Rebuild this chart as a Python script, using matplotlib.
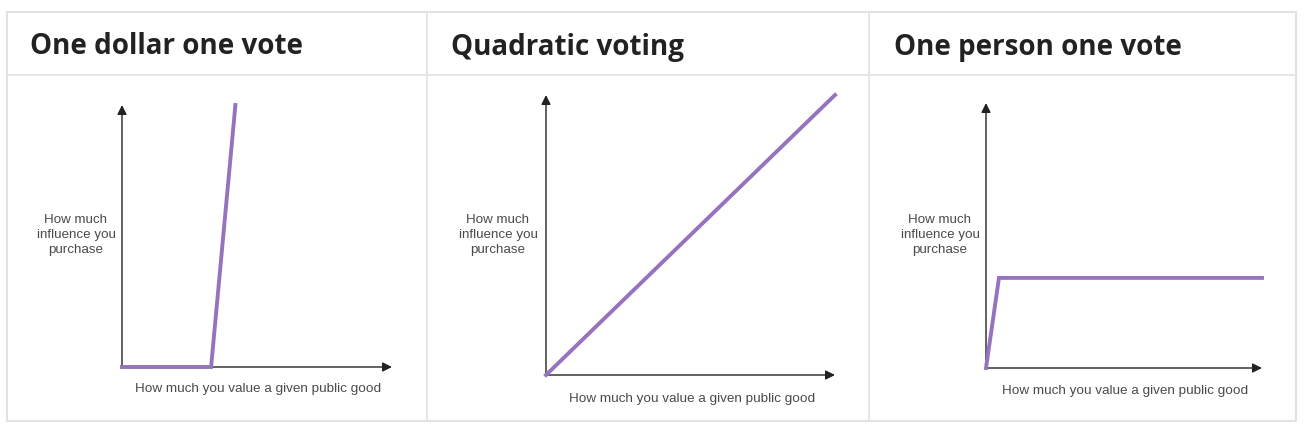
import matplotlib
matplotlib.use("Agg")
import matplotlib.pyplot as plt
from matplotlib.lines import Line2D

W, H = 1304, 434
DPI = 100

titles = ["One dollar one vote", "Quadratic voting", "One person one vote"]
y_label = "How much\ninfluence you\npurchase"
x_label = "How much you value a given public good"

# curve values (fraction of axis length: value -> influence)
x_dollar = [0.0, 0.33, 0.42]
y_dollar = [0.0, 0.0, 1.0]
x_quad = [0.0, 1.0]
y_quad = [0.0, 1.0]
x_person = [0.0, 0.047, 1.0]
y_person = [0.0, 0.34, 0.34]
series = [(x_dollar, y_dollar), (x_quad, y_quad), (x_person, y_person)]

# panel layout in pixels: origin x, origin y, axis tip x, axis tip y
panels = [(122, 367, 392, 105), (546, 375, 835, 95), (986, 368, 1262, 103)]
title_x = [30, 451, 894]
ylab_x = [76, 498, 940]
ylab_y = [235, 235, 235]
xlab_x = [258, 692, 1125]
xlab_y = [389, 399, 391]

PURPLE = "#9674bd"
BORDER = "#e2e2e2"

fig = plt.figure(figsize=(W / DPI, H / DPI), dpi=DPI)
fig.patch.set_facecolor("white")

def fx(px):
    return px / W

def fy(py):
    return 1 - py / H

# table borders
bg = fig.add_axes([0, 0, 1, 1])
bg.set_xlim(0, W)
bg.set_ylim(H, 0)
bg.axis("off")
left, right, top, bottom = 7, 1296, 12, 421
bg.add_line(Line2D([left, right, right, left, left], [top, top, bottom, bottom, top], color=BORDER, lw=1.5))
bg.add_line(Line2D([left, right], [75, 75], color=BORDER, lw=1.2))
for cx in (427, 869):
    bg.add_line(Line2D([cx, cx], [top, bottom], color=BORDER, lw=1.2))

for i, (t, (xs, ys), (ox, oy, tx, ty)) in enumerate(zip(titles, series, panels)):
    bg.text(title_x[i], 47, t, fontsize=20, fontweight="bold", family="Open Sans",
            color="#222222", ha="left", va="center")
    bg.text(ylab_x[i], ylab_y[i], y_label, fontsize=9.6, family="Liberation Sans",
            color="#4a4a4a", ha="center", va="center", linespacing=1.35)
    bg.text(xlab_x[i], xlab_y[i], x_label, fontsize=9.7, family="Liberation Sans",
            color="#4a4a4a", ha="center", va="center")
    ax = fig.add_axes([fx(ox), fy(oy), fx(tx) - fx(ox), fy(ty) - fy(oy)])
    ax.set_xlim(0, 1)
    ax.set_ylim(0, 1)
    ax.axis("off")
    ax.patch.set_alpha(0)
    ax.annotate("", xy=(1, 0), xytext=(0, 0), xycoords="axes fraction",
                arrowprops=dict(arrowstyle="-|>", color="#222222", lw=1.0,
                                mutation_scale=14, shrinkA=0, shrinkB=0))
    ax.annotate("", xy=(0, 1), xytext=(0, 0), xycoords="axes fraction",
                arrowprops=dict(arrowstyle="-|>", color="#222222", lw=1.0,
                                mutation_scale=14, shrinkA=0, shrinkB=0))
    ax.plot(xs, ys, color=PURPLE, lw=2.8, solid_joinstyle="miter", clip_on=False, zorder=3)

fig.savefig("out.png", dpi=DPI, facecolor="white")
